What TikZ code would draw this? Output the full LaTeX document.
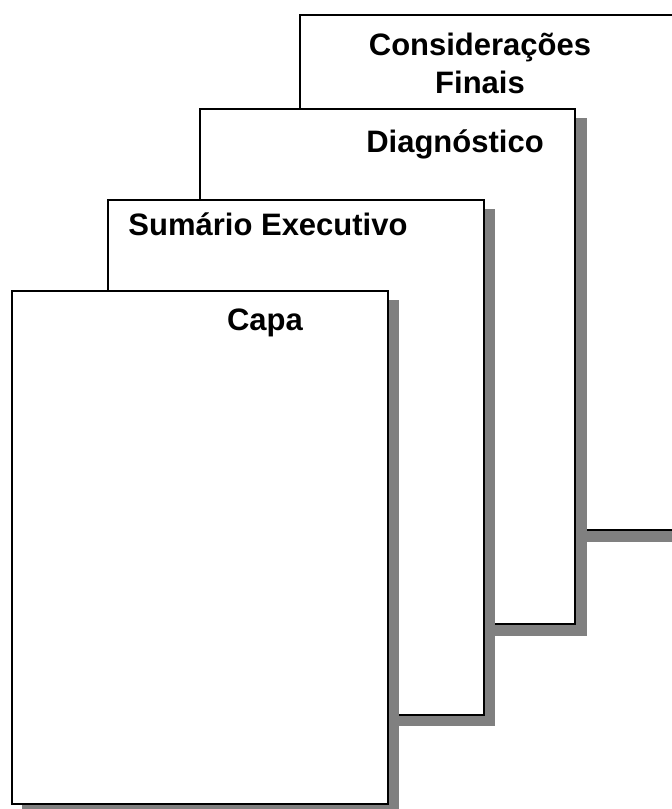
\documentclass[tikz,border=0pt]{standalone}
\usepackage{fontspec}
\setmainfont{Liberation Sans}
\begin{document}
\begin{tikzpicture}[x=1pt,y=-1pt,
  pageshadow/.style={fill=black!50,draw=none},
  pagebox/.style={fill=white,draw=black,line width=2pt},
  title/.style={font=\fontsize{31}{38}\selectfont\bfseries,inner sep=0pt,anchor=base,align=center}]
\useasboundingbox (0,0) rectangle (672,809);
\clip (0,0) rectangle (672,809);
% page 4: Considerações Finais
\fill[pageshadow] (311,25) rectangle (700,542);
\draw[pagebox] (300,15) rectangle (690,530);
% page 3: Diagnóstico
\fill[pageshadow] (210,118) rectangle (587,636);
\draw[pagebox] (200,109) rectangle (575,624);
% page 2: Sumário Executivo
\fill[pageshadow] (118,209) rectangle (495,726);
\draw[pagebox] (108,200) rectangle (484,715);
% page 1: Capa
\fill[pageshadow] (22,300) rectangle (399,816);
\draw[pagebox] (12,291) rectangle (388,804);
% titles
\node[title] (cf) at (480,93) {Considerações\\Finais};
\node[title] (diag) at (455,152) {Diagnóstico};
\node[title] (sum) at (268,235) {Sumário Executivo};
\node[title] (capa) at (265,330) {Capa};
\end{tikzpicture}
\end{document}
